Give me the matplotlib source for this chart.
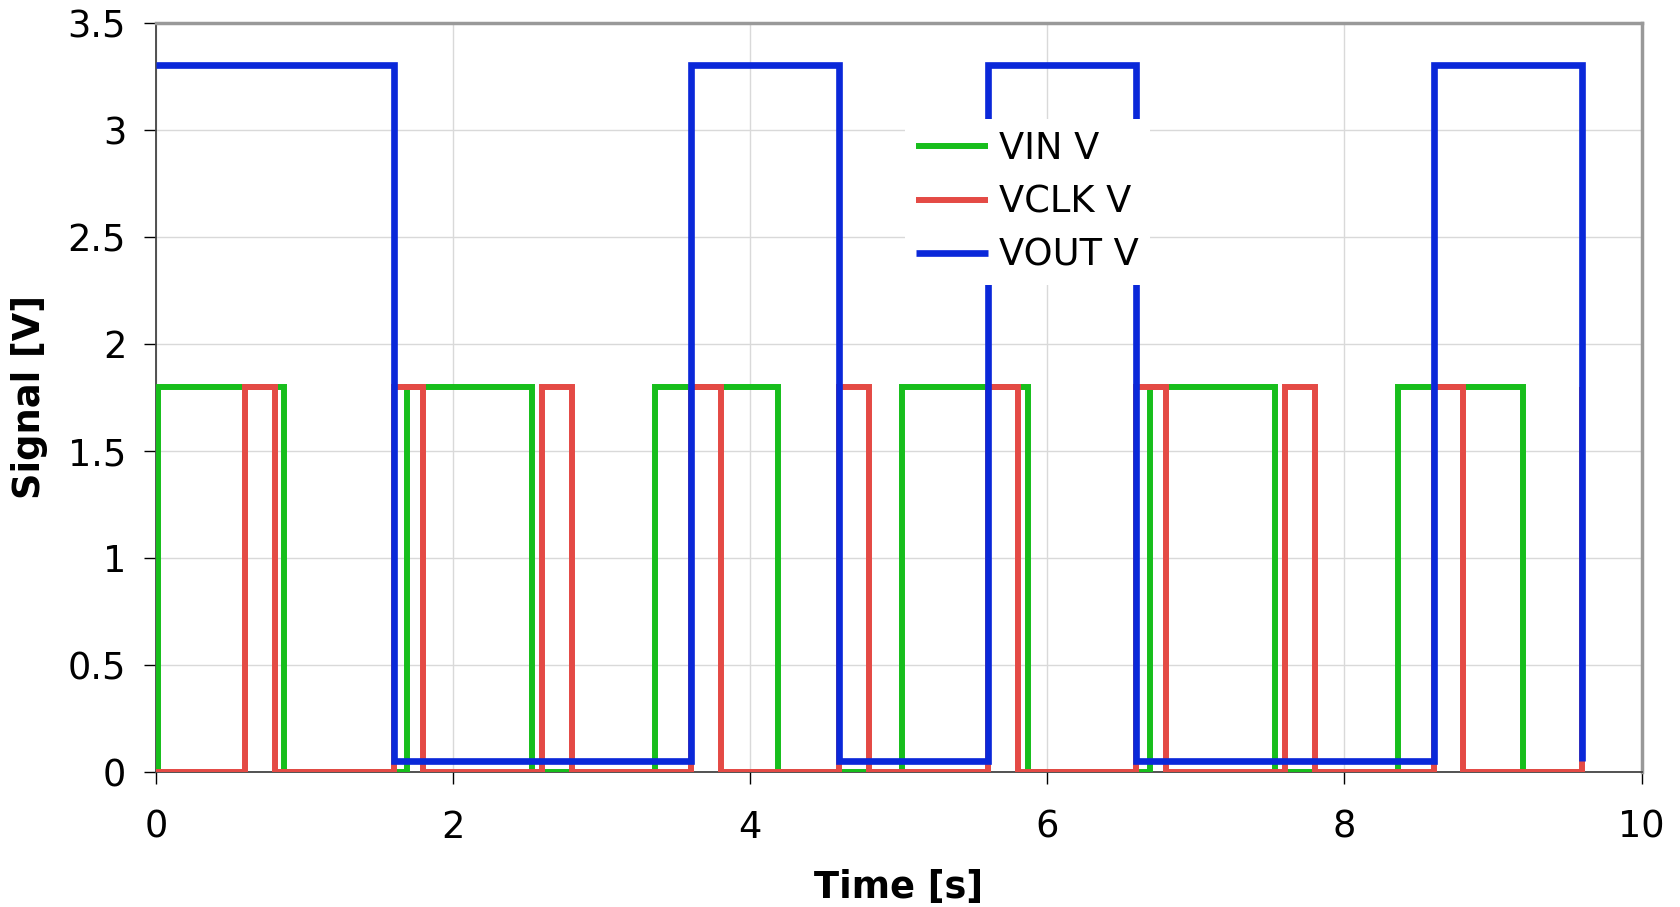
import matplotlib
matplotlib.use("Agg")
import matplotlib.pyplot as plt

# transition times [s] and the level held from each time on (step, post)
vin_t = [0.0, 0.01, 0.86, 1.69, 2.53, 3.36, 4.19, 5.02, 5.87, 6.69, 7.53, 8.36, 9.20, 9.60]
vin_v = [0.0, 1.8, 0.0, 1.8, 0.0, 1.8, 0.0, 1.8, 0.0, 1.8, 0.0, 1.8, 0.0, 0.0]

vclk_t = [0.0, 0.6, 0.8, 1.6, 1.8, 2.6, 2.8, 3.6, 3.8, 4.6, 4.8, 5.6, 5.8,
          6.6, 6.8, 7.6, 7.8, 8.6, 8.8, 9.6]
vclk_v = [0.0, 1.8, 0.0, 1.8, 0.0, 1.8, 0.0, 1.8, 0.0, 1.8, 0.0, 1.8, 0.0,
          1.8, 0.0, 1.8, 0.0, 1.8, 0.0, 1.8]

vout_t = [0.0, 1.6, 3.6, 4.6, 5.6, 6.6, 8.6, 9.6]
vout_v = [3.3, 0.05, 3.3, 0.05, 3.3, 0.05, 3.3, 0.05]

labels = ["VIN V", "VCLK V", "VOUT V"]
colors = ["#17be1c", "#e44a45", "#0a28d9"]

fig = plt.figure(figsize=(16.8, 9.07), dpi=100)
ax = fig.add_axes([0.0929, 0.1488, 0.9771 - 0.0929, 0.975 - 0.1488])

series = [(vin_t, vin_v), (vclk_t, vclk_v), (vout_t, vout_v)]
widths = [4.3, 4.3, 4.8]
for (t, v), lab, c, lw, z in zip(series, labels, colors, widths, [3, 4, 5]):
    ax.step(t, v, where="post", color=c, lw=lw, label=lab, zorder=z,
            solid_joinstyle="miter", solid_capstyle="butt")

ax.set_xlim(0, 10)
ax.set_ylim(0, 3.5)
ax.set_xticks(range(0, 11, 2))
ax.set_yticks([0, 0.5, 1, 1.5, 2, 2.5, 3, 3.5])
ax.set_yticklabels(["0", "0.5", "1", "1.5", "2", "2.5", "3", "3.5"])
ax.grid(True, color="#d9d9d9", lw=1.0, zorder=0)
ax.set_axisbelow(True)

ax.tick_params(axis="both", direction="out", length=8.5, width=1.0,
               labelsize=26.5, colors="black")
ax.tick_params(axis="y", pad=13)
ax.tick_params(axis="x", pad=18)

for side in ["left", "bottom"]:
    ax.spines[side].set_color("#444444")
    ax.spines[side].set_linewidth(1.3)
for side in ["top", "right"]:
    ax.spines[side].set_color("#999999")
    ax.spines[side].set_linewidth(2.5)

ax.set_xlabel("Time [s]", fontsize=26.5, fontweight="bold", labelpad=17)
ax.set_ylabel("Signal [V]", fontsize=26.5, fontweight="bold", labelpad=14)

leg = ax.legend(loc="upper left", bbox_to_anchor=(0.5387, 0.869),
                bbox_transform=fig.transFigure, fontsize=26.5, frameon=True,
                fancybox=False, edgecolor="none", facecolor="white",
                framealpha=1.0, handlelength=1.95, handletextpad=0.3,
                borderpad=0.3, labelspacing=0.45, borderaxespad=0)
leg.set_zorder(10)

fig.savefig("out.png", dpi=100)
